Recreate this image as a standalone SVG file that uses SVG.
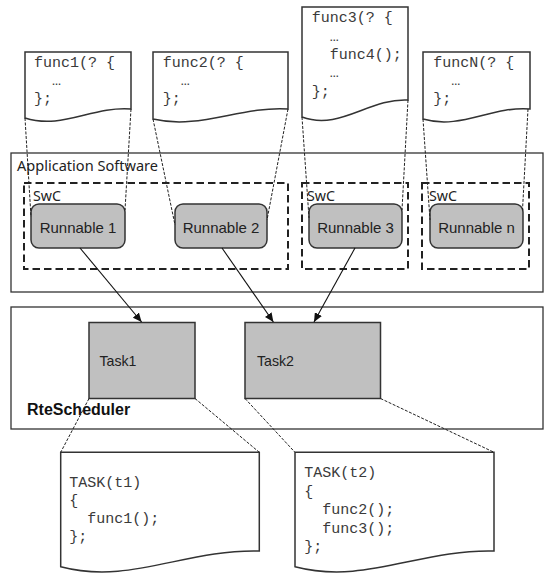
<svg xmlns="http://www.w3.org/2000/svg" width="544" height="576" viewBox="0 0 544 576">
<style>
.doc{fill:#fff;stroke:#333;stroke-width:1.5}
.code{font-family:"Liberation Mono","Courier New",monospace;font-size:15px;fill:#3a3a3a}
.box{fill:#fff;stroke:#333;stroke-width:1.3}
.swc{fill:none;stroke:#222;stroke-width:2;stroke-dasharray:7.5,4}
.run{fill:#c0c0c0;stroke:#333;stroke-width:1.5}
.task{fill:#c0c0c0;stroke:#333;stroke-width:1.5}
.lbl{font-family:"Liberation Sans",Arial,sans-serif;font-size:15px;fill:#222}
.ms{font-family:"Noto Sans","Liberation Sans",sans-serif;font-size:15px;fill:#222}
.dash{fill:none;stroke:#222;stroke-width:1;stroke-dasharray:3,1.5}
.arr{fill:none;stroke:#111;stroke-width:1.1}
</style>
<defs>
<marker id="ah" markerUnits="userSpaceOnUse" markerWidth="10" markerHeight="8" refX="9" refY="4" orient="auto">
<path d="M0,0 L9,4 L0,8 z" fill="#111"/>
</marker>
</defs>
<rect width="544" height="576" fill="#fff"/>

<g id="app-software">
<rect class="box" x="11" y="153" width="532" height="139"/>
<text class="ms" x="17" y="170.5" font-size="16" textLength="141" lengthAdjust="spacingAndGlyphs">Application Software</text>
</g>
<g id="swc1">
<rect class="swc" x="24" y="183" width="264" height="86"/>
<text class="ms" x="33" y="201" textLength="28" lengthAdjust="spacingAndGlyphs">SwC</text>
</g>
<g id="swc2">
<rect class="swc" x="302" y="183" width="106" height="86"/>
<text class="ms" x="307" y="201" textLength="28" lengthAdjust="spacingAndGlyphs">SwC</text>
</g>
<g id="swc3">
<rect class="swc" x="422" y="183" width="107" height="86"/>
<text class="ms" x="429" y="201" textLength="28" lengthAdjust="spacingAndGlyphs">SwC</text>
</g>
<g id="runnable1">
<rect class="run" x="31" y="204" width="94" height="44" rx="8"/>
<text class="lbl" x="78" y="232.5" text-anchor="middle">Runnable 1</text>
</g>
<g id="runnable2">
<rect class="run" x="175" y="204" width="92" height="44" rx="8"/>
<text class="lbl" x="221" y="232.5" text-anchor="middle">Runnable 2</text>
</g>
<g id="runnable3">
<rect class="run" x="309" y="204" width="93" height="44" rx="8"/>
<text class="lbl" x="355.5" y="232.5" text-anchor="middle">Runnable 3</text>
</g>
<g id="runnablen">
<rect class="run" x="430" y="204" width="93" height="44" rx="8"/>
<text class="lbl" x="476.5" y="232.5" text-anchor="middle">Runnable n</text>
</g>

<g id="rte-scheduler">
<rect class="box" x="11" y="307" width="532" height="122"/>
<text x="27" y="415" font-family="'Liberation Sans',Arial,sans-serif" font-size="16" font-weight="bold" fill="#111">RteScheduler</text>
</g>
<g id="task1">
<rect class="task" x="89" y="322.5" width="106" height="76"/>
<text class="lbl" x="99.5" y="366" font-size="16" textLength="37" lengthAdjust="spacingAndGlyphs">Task1</text>
</g>
<g id="task2">
<rect class="task" x="245" y="322.5" width="135.5" height="76"/>
<text class="lbl" x="257" y="366" font-size="16" textLength="37" lengthAdjust="spacingAndGlyphs">Task2</text>
</g>

<g id="doc-func1">
<path class="doc" d="M25,52 H131 V109 C92,106 62,130 25,118 Z"/>
<text class="code" x="34" y="67">func1(? {</text>
<text class="code" x="52" y="85">…</text>
<text class="code" x="34" y="103">};</text>
</g>
<g id="doc-func2">
<path class="doc" d="M153,52 H288 V109 C240,106 200,130 153,119 Z"/>
<text class="code" x="162.7" y="67">func2(? {</text>
<text class="code" x="180.7" y="85">…</text>
<text class="code" x="162.7" y="103">};</text>
</g>
<g id="doc-func3">
<path class="doc" d="M302,7 H408 V100 C369,98 340,131 302,117 Z"/>
<text class="code" x="311.7" y="22">func3(? {</text>
<text class="code" x="329.7" y="40.5">…</text>
<text class="code" x="329.7" y="59">func4();</text>
<text class="code" x="329.7" y="77">…</text>
<text class="code" x="311.7" y="95.5">};</text>
</g>
<g id="doc-funcN">
<path class="doc" d="M423,52 H530 V109 C491,106 461,130 423,119 Z"/>
<text class="code" x="433.3" y="67">funcN(? {</text>
<text class="code" x="451.3" y="85">…</text>
<text class="code" x="433.3" y="103">};</text>
</g>

<g id="doc-task1">
<path class="doc" d="M60.7,452.3 H259.3 V551 C185,549 130,585 60.7,566.7 Z"/>
<text class="code" x="69.3" y="486.5">TASK(t1)</text>
<text class="code" x="69.3" y="504.8">{</text>
<text class="code" x="87.3" y="523.1">func1();</text>
<text class="code" x="69.3" y="541.4">};</text>
</g>
<g id="doc-task2">
<path class="doc" d="M295,452.3 H494 V551 C420,549 365,585 295,566.7 Z"/>
<text class="code" x="304.3" y="477.3">TASK(t2)</text>
<text class="code" x="304.3" y="495.7">{</text>
<text class="code" x="322.3" y="514.1">func2();</text>
<text class="code" x="322.3" y="532.5">func3();</text>
<text class="code" x="304.3" y="550.9">};</text>
</g>

<g id="connectors">
<line class="dash" x1="25" y1="118" x2="31" y2="217"/>
<line class="dash" x1="131" y1="109" x2="125" y2="210"/>
<line class="dash" x1="153" y1="119" x2="175" y2="225"/>
<line class="dash" x1="288" y1="109" x2="267" y2="220"/>
<line class="dash" x1="302" y1="117" x2="309" y2="218"/>
<line class="dash" x1="408" y1="100" x2="402" y2="210"/>
<line class="dash" x1="423" y1="119" x2="430" y2="220"/>
<line class="dash" x1="528" y1="109" x2="522.5" y2="210"/>
<line class="dash" x1="89" y1="398.5" x2="60.7" y2="452.3"/>
<line class="dash" x1="195" y1="398.5" x2="259.3" y2="452.3"/>
<line class="dash" x1="245" y1="398.5" x2="295" y2="452.3"/>
<line class="dash" x1="380.5" y1="398.5" x2="494" y2="452.3"/>
<line class="arr" x1="80" y1="248" x2="141.6" y2="322" marker-end="url(#ah)"/>
<line class="arr" x1="222" y1="248" x2="273.4" y2="322" marker-end="url(#ah)"/>
<line class="arr" x1="355" y1="248" x2="314" y2="322" marker-end="url(#ah)"/>
</g>
</svg>
